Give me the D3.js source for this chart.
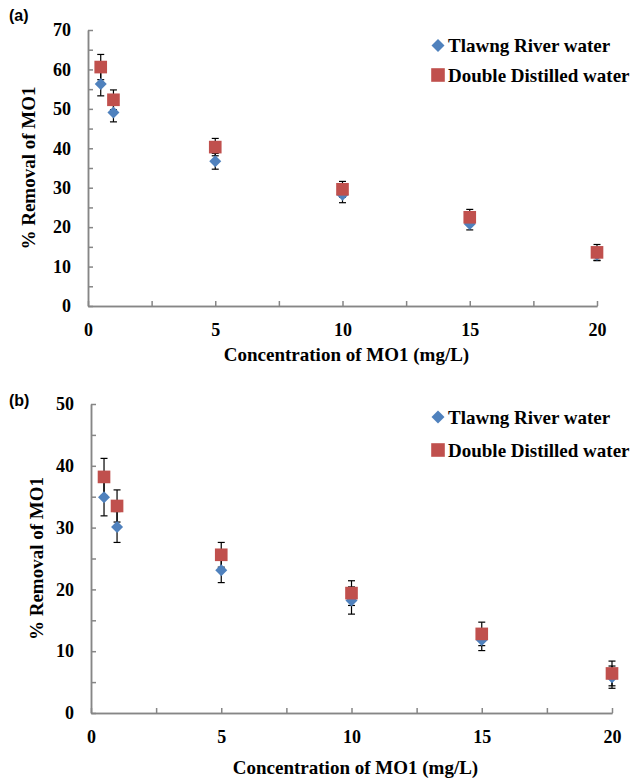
<!doctype html>
<html>

<head>
    <style>
        body { margin: 0; background: #fff; }
        text { font-family: "Liberation Serif", "Times New Roman", serif; font-weight: bold; fill: #000; }
        .axis path, .axis line { stroke: #868686; stroke-width: 1.5; }
        .axis text { font-size: 18px; }
        .panel-label { font-family: "Liberation Sans", Arial, sans-serif; font-size: 16px; }
    </style>
    <script src="https://d3js.org/d3.v7.min.js"></script>
</head>

<body>
    <svg width="630" height="779"></svg>
    <script>
        var conc = [0.5, 1, 5, 10, 15, 20];
        var seriesNames = ["Tlawng River water", "Double Distilled water"];

        // panel (a)
        var riverA = [56.3, 49.1, 36.7, 28.2, 20.8, 13.0];
        var riverErrA = [3.0, 2.4, 2.0, 2.0, 1.5, 1.5];
        var distilledA = [60.6, 52.3, 40.3, 29.6, 22.5, 13.6];
        var distilledErrA = [3.2, 2.5, 2.2, 2.0, 2.0, 2.0];

        // panel (b)
        var riverB = [34.9, 30.1, 23.1, 18.2, 11.8, 5.8];
        var riverErrB = [3.0, 2.5, 2.0, 2.2, 1.7, 1.8];
        var distilledB = [38.2, 33.5, 25.6, 19.4, 12.8, 6.4];
        var distilledErrB = [3.0, 2.6, 2.0, 2.0, 1.9, 2.0];

        var xTicks = [0, 5, 10, 15, 20];
        var xMinorTicks = [2.5, 7.5, 12.5, 17.5];
        var yTicksA = [0, 10, 20, 30, 40, 50, 60, 70];
        var yTicksB = [0, 10, 20, 30, 40, 50];

        var blue = "#4f81bd", red = "#c0504d";
        var svg = d3.select("svg");

        function drawPanel(p) {
            var x = d3.scaleLinear().domain([0, 20]).range([p.left, p.right]);
            var y = d3.scaleLinear().domain([0, p.yMax]).range([p.bottom, p.top]);
            var g = svg.append("g");

            var yMinor = d3.range(5, p.yMax, 10);
            g.append("g").attr("class", "axis")
                .attr("transform", "translate(" + p.left + ",0)")
                .call(d3.axisLeft(y).tickValues(yMinor).tickSize(-5).tickSizeOuter(0).tickFormat(""));
            g.append("g").attr("class", "axis")
                .attr("transform", "translate(" + p.left + ",0)")
                .call(d3.axisLeft(y).tickValues(p.yTicks).tickSize(-5).tickSizeOuter(0).tickPadding(17));

            g.append("g").attr("class", "axis")
                .attr("transform", "translate(0," + p.bottom + ")")
                .call(d3.axisBottom(x).tickValues(xMinorTicks).tickSize(-5).tickSizeOuter(0).tickFormat(""));
            g.append("g").attr("class", "axis")
                .attr("transform", "translate(0," + p.bottom + ")")
                .call(d3.axisBottom(x).tickValues(xTicks).tickSize(-5).tickSizeOuter(0).tickPadding(17));

            g.selectAll(".axis .domain").attr("stroke", "#868686");

            var series = [
                { vals: p.river, err: p.riverErr, color: blue, shape: "diamond" },
                { vals: p.distilled, err: p.distilledErr, color: red, shape: "square" }
            ];

            // error bars
            series.forEach(function (s) {
                var eb = g.append("g").attr("stroke", "#000").attr("stroke-width", 1.2);
                conc.forEach(function (c, i) {
                    var cx = x(c), y1 = y(s.vals[i] + s.err[i]), y2 = y(s.vals[i] - s.err[i]);
                    eb.append("line").attr("x1", cx).attr("x2", cx).attr("y1", y1).attr("y2", y2);
                    eb.append("line").attr("x1", cx - 3.5).attr("x2", cx + 3.5).attr("y1", y1).attr("y2", y1);
                    eb.append("line").attr("x1", cx - 3.5).attr("x2", cx + 3.5).attr("y1", y2).attr("y2", y2);
                });
            });

            // markers
            series.forEach(function (s) {
                g.append("g").selectAll("path")
                    .data(s.vals)
                    .enter().append("path")
                    .attr("d", marker(s.shape))
                    .attr("fill", s.color)
                    .attr("transform", function (d, i) {
                        return "translate(" + x(conc[i]) + "," + y(d) + ")" + (s.shape === "diamond" ? " rotate(45)" : "");
                    });
            });

            // legend
            series.forEach(function (s, i) {
                var ly = p.legendY[i];
                g.append("path")
                    .attr("d", marker(s.shape, true))
                    .attr("fill", s.color)
                    .attr("transform", "translate(438," + ly + ")" + (s.shape === "diamond" ? " rotate(45)" : ""));
                g.append("text")
                    .attr("x", 448)
                    .attr("y", ly + 6.5)
                    .style("font-size", "19px")
                    .text(seriesNames[i]);
            });

            // axis titles
            g.append("text")
                .attr("x", (p.left + p.right) / 2 + 4)
                .attr("y", p.xTitleY)
                .attr("text-anchor", "middle")
                .style("font-size", "19px")
                .text("Concentration of MO1 (mg/L)");

            g.append("text")
                .attr("transform", "translate(" + p.yTitleX + "," + ((p.top + p.bottom) / 2) + ") rotate(-90)")
                .attr("text-anchor", "middle")
                .style("font-size", "19px")
                .text("% Removal of MO1");

            g.append("text")
                .attr("class", "panel-label")
                .attr("x", 9)
                .attr("y", p.labelY)
                .text(p.label);
        }

        function marker(shape, legend) {
            var area = shape === "diamond" ? (legend ? 84 : 72) : (legend ? 185 : 160);
            return d3.symbol(d3.symbolSquare, area)();
        }

        drawPanel({
            left: 88, right: 597, top: 30, bottom: 306, yMax: 70, yTicks: yTicksA,
            river: riverA, riverErr: riverErrA, distilled: distilledA, distilledErr: distilledErrA,
            legendY: [45.5, 75], xTitleY: 361, yTitleX: 35, label: "(a)", labelY: 21
        });

        drawPanel({
            left: 91, right: 612, top: 404, bottom: 713, yMax: 50, yTicks: yTicksB,
            river: riverB, riverErr: riverErrB, distilled: distilledB, distilledErr: distilledErrB,
            legendY: [417, 450], xTitleY: 774, yTitleX: 43, label: "(b)", labelY: 406
        });
    </script>
</body>

</html>
